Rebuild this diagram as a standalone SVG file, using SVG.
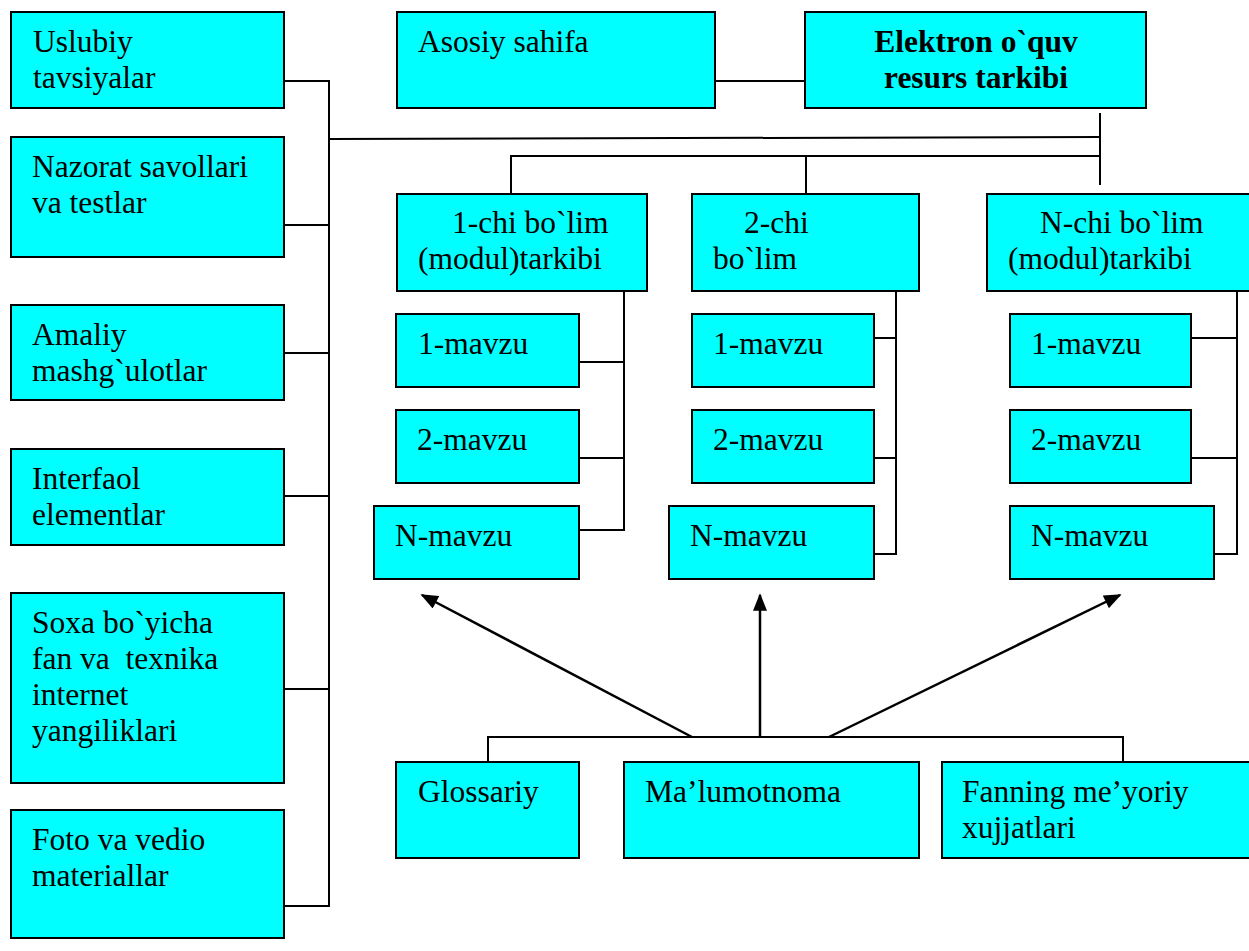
<svg xmlns="http://www.w3.org/2000/svg" width="1249" height="951" viewBox="0 0 1249 951">
<style>
.box{fill:#00FFFF;stroke:#000;stroke-width:2}
.t{font-family:"Liberation Serif","Times New Roman",serif;font-size:31.5px;fill:#000}
.b{font-weight:bold;text-anchor:middle}
.ln{stroke:#000;stroke-width:2;fill:none}
.ar{stroke:#000;stroke-width:2.5;fill:none;marker-end:url(#ah)}
</style>
<defs>
<marker id="ah" viewBox="0 0 10 8" refX="9" refY="4" markerWidth="7.2" markerHeight="5.6" markerUnits="strokeWidth" orient="auto">
<path d="M0,0 L10,4 L0,8 z" fill="#000"/>
</marker>
</defs>
<rect width="1249" height="951" fill="#fff"/>
<g id="connectors">
<polyline class="ln" points="284,81 329,81 329,906 284,906"/>
<line class="ln" x1="284" y1="225" x2="329" y2="225"/>
<line class="ln" x1="284" y1="353" x2="329" y2="353"/>
<line class="ln" x1="284" y1="496" x2="329" y2="496"/>
<line class="ln" x1="284" y1="689" x2="329" y2="689"/>
<line class="ln" x1="329" y1="139" x2="1100" y2="137"/>
<line class="ln" x1="715" y1="81" x2="805" y2="81"/>
<line class="ln" x1="1100" y1="113" x2="1100" y2="185"/>
<polyline class="ln" points="511,203 511,156 1100,156"/>
<line class="ln" x1="806" y1="156" x2="806" y2="203"/>
<polyline class="ln" points="624,291 624,530 579,530"/>
<line class="ln" x1="579" y1="362" x2="624" y2="362"/>
<line class="ln" x1="579" y1="458" x2="624" y2="458"/>
<polyline class="ln" points="896,291 896,554 874,554"/>
<line class="ln" x1="874" y1="338" x2="896" y2="338"/>
<line class="ln" x1="874" y1="458" x2="896" y2="458"/>
<polyline class="ln" points="1237,291 1237,554 1214,554"/>
<line class="ln" x1="1191" y1="338" x2="1237" y2="338"/>
<line class="ln" x1="1191" y1="458" x2="1237" y2="458"/>
<polyline class="ln" points="488,762 488,737 1123,737 1123,762"/>
<line class="ar" x1="692" y1="737" x2="422" y2="595"/>
<line class="ar" x1="760" y1="737" x2="760" y2="595"/>
<line class="ar" x1="829" y1="737" x2="1120" y2="595"/>
</g>
<g id="uslubiy"><rect class="box" x="11" y="12" width="273" height="96"/><text class="t" x="33" y="52">Uslubiy</text><text class="t" x="33" y="88">tavsiyalar</text></g>
<g id="nazorat"><rect class="box" x="11" y="137" width="273" height="120"/><text class="t" x="32" y="177">Nazorat savollari</text><text class="t" x="32" y="213">va testlar</text></g>
<g id="amaliy"><rect class="box" x="11" y="305" width="273" height="95"/><text class="t" x="32" y="345">Amaliy</text><text class="t" x="32" y="381">mashg`ulotlar</text></g>
<g id="interfaol"><rect class="box" x="11" y="449" width="273" height="96"/><text class="t" x="32" y="489">Interfaol</text><text class="t" x="32" y="525">elementlar</text></g>
<g id="soxa"><rect class="box" x="11" y="593" width="273" height="190"/><text class="t" x="32" y="633">Soxa bo`yicha</text><text class="t" x="32" y="669" style="white-space:pre">fan va  texnika</text><text class="t" x="32" y="705">internet</text><text class="t" x="32" y="741">yangiliklari</text></g>
<g id="foto"><rect class="box" x="11" y="810" width="273" height="128"/><text class="t" x="32" y="850">Foto va vedio</text><text class="t" x="32" y="886">materiallar</text></g>
<g id="asosiy"><rect class="box" x="397" y="12" width="318" height="96"/><text class="t" x="418" y="52">Asosiy sahifa</text></g>
<g id="elektron"><rect class="box" x="805" y="12" width="341" height="96"/><text class="t b" x="976" y="52">Elektron o`quv</text><text class="t b" x="976" y="88">resurs tarkibi</text></g>
<g id="bolim1"><rect class="box" x="397" y="194" width="250" height="97"/><text class="t" x="452" y="233">1-chi bo`lim</text><text class="t" x="418" y="269">(modul)tarkibi</text></g>
<g id="bolim2"><rect class="box" x="692" y="194" width="227" height="97"/><text class="t" x="744" y="233">2-chi</text><text class="t" x="713" y="269">bo`lim</text></g>
<g id="bolimN"><rect class="box" x="987" y="194" width="270" height="97"/><text class="t" x="1040" y="233">N-chi bo`lim</text><text class="t" x="1008" y="269">(modul)tarkibi</text></g>
<g id="c1m1"><rect class="box" x="396" y="314" width="183" height="73"/><text class="t" x="418" y="354">1-mavzu</text></g>
<g id="c1m2"><rect class="box" x="396" y="410" width="183" height="73"/><text class="t" x="417" y="450">2-mavzu</text></g>
<g id="c1mN"><rect class="box" x="374" y="506" width="205" height="73"/><text class="t" x="395" y="546">N-mavzu</text></g>
<g id="c2m1"><rect class="box" x="692" y="314" width="182" height="73"/><text class="t" x="713" y="354">1-mavzu</text></g>
<g id="c2m2"><rect class="box" x="692" y="410" width="182" height="73"/><text class="t" x="713" y="450">2-mavzu</text></g>
<g id="c2mN"><rect class="box" x="669" y="506" width="205" height="73"/><text class="t" x="690" y="546">N-mavzu</text></g>
<g id="c3m1"><rect class="box" x="1010" y="314" width="181" height="73"/><text class="t" x="1031" y="354">1-mavzu</text></g>
<g id="c3m2"><rect class="box" x="1010" y="410" width="181" height="73"/><text class="t" x="1031" y="450">2-mavzu</text></g>
<g id="c3mN"><rect class="box" x="1010" y="506" width="204" height="73"/><text class="t" x="1031" y="546">N-mavzu</text></g>
<g id="glossariy"><rect class="box" x="396" y="762" width="183" height="96"/><text class="t" x="418" y="802">Glossariy</text></g>
<g id="malumotnoma"><rect class="box" x="624" y="762" width="295" height="96"/><text class="t" x="645" y="802">Ma’lumotnoma</text></g>
<g id="fanning"><rect class="box" x="942" y="762" width="315" height="96"/><text class="t" x="962" y="802">Fanning me’yoriy</text><text class="t" x="962" y="838">xujjatlari</text></g>
</svg>
